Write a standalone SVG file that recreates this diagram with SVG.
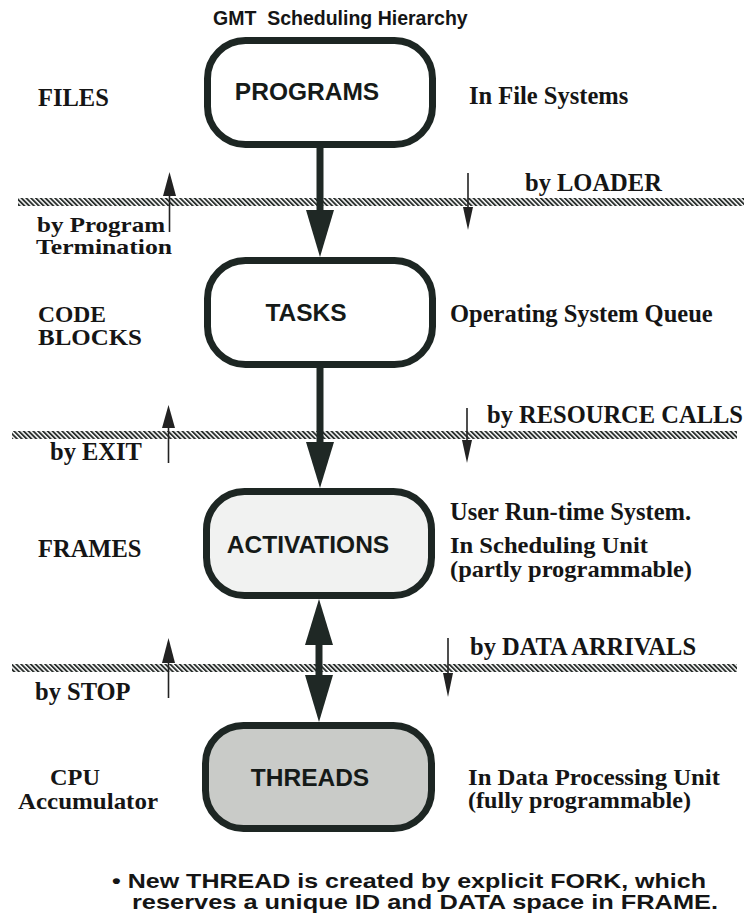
<svg xmlns="http://www.w3.org/2000/svg" width="750" height="915" viewBox="0 0 750 915">
  <defs>
    <!-- diagonal hatching for the level boundaries -->
    <pattern id="hatch" width="3.4" height="3.4" patternUnits="userSpaceOnUse" patternTransform="rotate(-45)">
      <rect x="0" y="0" width="1.9" height="3.4" fill="#2a2f2d"/>
    </pattern>
    <style>
      .box { stroke: #1d2623; stroke-width: 7; }
      .lbl { font-family: "Liberation Sans", Arial, sans-serif; font-weight: bold; font-size: 24.5px; fill: #151a18; text-anchor: middle; }
      .serif { font-family: "Liberation Serif", "Times New Roman", serif; font-weight: bold; font-size: 24.5px; fill: #151515; }
      .pair { font-size: 22.5px; }
      .tight { font-size: 21.5px; }
      .sans { font-family: "Liberation Sans", Arial, sans-serif; font-weight: bold; fill: #151515; }
      .bar { fill: url(#hatch); }
      .shaft { stroke: #1f2825; stroke-width: 7; fill: none; }
      .head { fill: #1f2825; }
      .thin { stroke: #222; stroke-width: 1.6; fill: none; }
      .tip { fill: #222; }
    </style>
  </defs>

  <rect width="750" height="915" fill="#ffffff"/>

  <!-- title -->
  <text class="sans" x="213" y="25" font-size="19.5" xml:space="preserve">GMT  Scheduling Hierarchy</text>

  <!-- level boundaries -->
  <g id="boundaries">
    <rect class="bar" x="18" y="198" width="726" height="8"/>
    <rect class="bar" x="12" y="431" width="725" height="8"/>
    <rect class="bar" x="12" y="664" width="725" height="8"/>
  </g>

  <!-- nodes -->
  <g id="programs">
    <rect class="box" x="207.5" y="40.5" width="225" height="104" rx="38" fill="#ffffff"/>
    <text class="lbl" x="307" y="100">PROGRAMS</text>
  </g>
  <g id="tasks">
    <rect class="box" x="207.5" y="260.5" width="225" height="104" rx="38" fill="#ffffff"/>
    <text class="lbl" x="306" y="321">TASKS</text>
  </g>
  <g id="activations">
    <rect class="box" x="206.5" y="491.5" width="225" height="104" rx="38" fill="#f1f2f1"/>
    <text class="lbl" x="308" y="553">ACTIVATIONS</text>
  </g>
  <g id="threads">
    <rect class="box" x="205.5" y="725.5" width="226" height="103" rx="38" fill="#c9cbc8"/>
    <text class="lbl" x="310" y="786">THREADS</text>
  </g>

  <!-- connectors -->
  <g id="connectors">
    <!-- PROGRAMS -> TASKS -->
    <line class="shaft" x1="320" y1="148" x2="320" y2="212"/>
    <polygon class="head" points="306,210 334,210 320,257"/>
    <!-- TASKS -> ACTIVATIONS -->
    <line class="shaft" x1="320" y1="368" x2="320" y2="444"/>
    <polygon class="head" points="306,442 334,442 320,488"/>
    <!-- ACTIVATIONS <-> THREADS -->
    <line class="shaft" x1="319" y1="643" x2="319" y2="677"/>
    <polygon class="head" points="305,645 333,645 319,599"/>
    <polygon class="head" points="305,675 333,675 319,722"/>

    <!-- upward transitions (left) -->
    <line class="thin" x1="169.5" y1="192" x2="169.5" y2="232"/>
    <polygon class="tip" points="163,196 176,196 169.5,172"/>
    <line class="thin" x1="168.5" y1="425" x2="168.5" y2="463"/>
    <polygon class="tip" points="162,428 175,428 168.5,405"/>
    <line class="thin" x1="168.5" y1="660" x2="168.5" y2="698"/>
    <polygon class="tip" points="162,663 175,663 168.5,638"/>

    <!-- downward transitions (right) -->
    <line class="thin" x1="468" y1="173" x2="468" y2="210"/>
    <polygon class="tip" points="463,207 473,207 468,230"/>
    <line class="thin" x1="467" y1="408" x2="467" y2="443"/>
    <polygon class="tip" points="462,440 472,440 467,463"/>
    <line class="thin" x1="448" y1="638" x2="448" y2="676"/>
    <polygon class="tip" points="443,673 453,673 448,697"/>
  </g>

  <!-- left column: storage forms -->
  <g id="left-labels">
    <text class="serif" x="38" y="106">FILES</text>
    <text class="serif tight" x="37" y="232" textLength="128" lengthAdjust="spacingAndGlyphs">by Program</text>
    <text class="serif tight" x="36" y="254" textLength="136" lengthAdjust="spacingAndGlyphs">Termination</text>
    <text class="serif pair" x="38" y="322" textLength="68" lengthAdjust="spacingAndGlyphs">CODE</text>
    <text class="serif pair" x="38" y="345" textLength="104" lengthAdjust="spacingAndGlyphs">BLOCKS</text>
    <text class="serif" x="50" y="460">by EXIT</text>
    <text class="serif" x="38" y="557">FRAMES</text>
    <text class="serif" x="35" y="700">by STOP</text>
    <text class="serif pair" x="50" y="785" textLength="50" lengthAdjust="spacingAndGlyphs">CPU</text>
    <text class="serif pair" x="18" y="809" textLength="140" lengthAdjust="spacingAndGlyphs">Accumulator</text>
  </g>

  <!-- right column: where each level lives -->
  <g id="right-labels">
    <text class="serif" x="469" y="104">In File Systems</text>
    <text class="serif" x="525" y="191">by LOADER</text>
    <text class="serif" x="450" y="322">Operating System Queue</text>
    <text class="serif" x="487" y="423">by RESOURCE CALLS</text>
    <text class="serif" x="450" y="520">User Run-time System.</text>
    <text class="serif pair" x="450" y="553" textLength="198" lengthAdjust="spacingAndGlyphs">In Scheduling Unit</text>
    <text class="serif pair" x="450" y="577" textLength="242" lengthAdjust="spacingAndGlyphs">(partly programmable)</text>
    <text class="serif" x="470" y="655">by DATA ARRIVALS</text>
    <text class="serif pair" x="468" y="785" textLength="252" lengthAdjust="spacingAndGlyphs">In Data Processing Unit</text>
    <text class="serif pair" x="468" y="808" textLength="223" lengthAdjust="spacingAndGlyphs">(fully programmable)</text>
  </g>

  <!-- note -->
  <g id="note">
    <text class="sans" x="112" y="888" font-size="21" textLength="594" lengthAdjust="spacingAndGlyphs">• New THREAD is created by explicit FORK, which</text>
    <text class="sans" x="132" y="909" font-size="21" textLength="586" lengthAdjust="spacingAndGlyphs">reserves a unique ID and DATA space in FRAME.</text>
  </g>
</svg>
